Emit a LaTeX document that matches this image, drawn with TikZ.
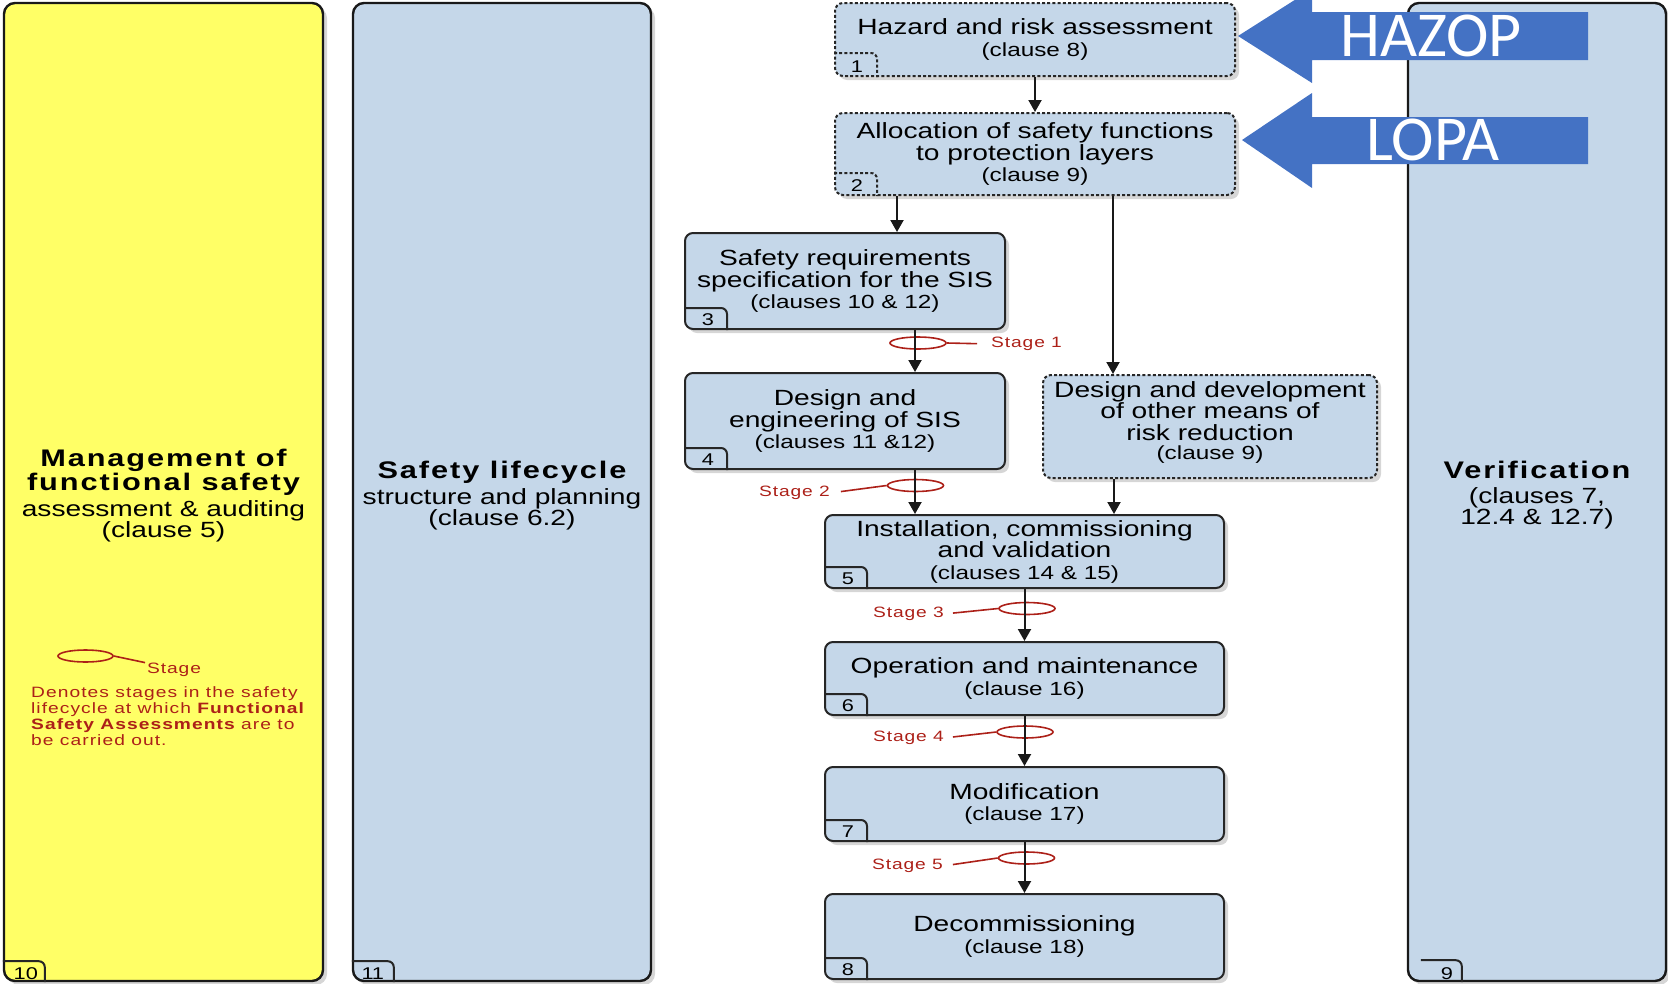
\documentclass[tikz,border=0pt]{standalone}
\usepackage{fontspec}
\setmainfont{Liberation Sans}[FakeStretch=1.28]
\newfontfamily\trackfont{Liberation Sans}[FakeStretch=1.28,LetterSpace=8]
\newfontfamily\stagefont{Liberation Sans}[FakeStretch=1.28,LetterSpace=6]
\newfontfamily\legfont{Liberation Sans}[FakeStretch=1.28,LetterSpace=7]
\newfontfamily\blockfont{Carlito}
\usetikzlibrary{shadows,arrows.meta,calc,shapes.geometric}
\definecolor{boxblue}{RGB}{197,215,233}
\definecolor{boxyellow}{RGB}{255,255,102}
\definecolor{stagered}{RGB}{172,32,24}
\definecolor{arrowblue}{RGB}{68,114,196}
\newcommand\mainf{\fontsize{22}{21.5}\selectfont}
\newcommand\clf{\fontsize{19}{21.5}\selectfont}
\newcommand\titlef{\fontsize{24}{24}\selectfont\trackfont\bfseries}
\newcommand\bigf{\fontsize{22}{24.5}\selectfont}
\newcommand\stagef{\fontsize{15}{17}\selectfont\stagefont}
\newcommand\legf{\fontsize{15}{16}\selectfont\legfont}
\newcommand\numf{\fontsize{17}{18}\selectfont}
\tikzset{
  every node/.style={inner sep=0pt},
  shad/.style={drop shadow={shadow xshift=4pt,shadow yshift=-4pt,opacity=0.16,fill=black}},
  box/.style={draw=black!85,line width=2pt,fill=boxblue,rounded corners=8pt,align=center,font=\mainf,shad},
  dotbox/.style={box,dash pattern=on 3pt off 2.2pt},
  bigbox/.style={draw=black!90,line width=2.4pt,rounded corners=11pt,shad},
  bigtext/.style={align=center,font=\bigf},
  boxtext/.style={align=center,font=\mainf},
  arr/.style={line width=2pt,draw=black!90,-{Triangle[length=12pt,width=13pt]}},
  stagering/.style={ellipse,draw=stagered,line width=1.6pt,minimum width=56pt,minimum height=12pt},
  stageline/.style={draw=stagered,line width=1.6pt},
  stagetxt/.style={text=stagered,font=\stagef},
  tabline/.style={line width=2pt,draw=black!85,rounded corners=6pt},
  dottab/.style={tabline,dash pattern=on 3pt off 2.2pt},
  tabnum/.style={font=\numf},
  bluearrow/.style={fill=arrowblue},
  blocktxt/.style={text=white,font=\blockfont\fontsize{64}{64}\selectfont}
}
\begin{document}
\begin{tikzpicture}[x=1pt,y=-1pt]
\useasboundingbox (0,0) rectangle (1668,983);
\clip (0,0) rectangle (1668,983);

% large columns
\node[bigbox,fill=boxyellow,minimum width=319pt,minimum height=978pt] (b10) at (163.5,492) {};
\node[bigtext] (b10t) at ($(b10.center)+(0,3.5)$)
  {{\titlef Management of}\\{\titlef functional safety}\\[1pt]assessment \& auditing\\[-3pt](clause 5)};
\node[bigbox,fill=boxblue,minimum width=298pt,minimum height=978pt] (b11) at (502,492) {};
\node[bigtext] (b11t) at ($(b11.center)+(0,4)$)
  {{\titlef Safety lifecycle}\\[1pt]structure and planning\\[-3pt](clause 6.2)};
\node[bigbox,fill=boxblue,minimum width=258pt,minimum height=978pt] (b9) at (1537,492) {};
\node[bigtext] (b9t) at ($(b9.center)+(0,3)$)
  {{\titlef Verification}\\[1pt](clauses 7,\\[-4pt]12.4 \& 12.7)};

% tabs of large columns
\draw[tabline] ($(b10.south west)+(0,-21)$) -- ++(42,0) -- ++(0,21);
\node[tabnum] (n10) at ($(b10.south west)+(23,-9)$) {10};
\draw[tabline] ($(b11.south west)+(0,-21)$) -- ++(42,0) -- ++(0,21);
\node[tabnum] (n11) at ($(b11.south west)+(21,-9)$) {11};
\draw[tabline] ($(b9.south west)+(14,-22)$) -- ++(41,0) -- ++(0,22);
\node[tabnum] (n9) at ($(b9.south west)+(40,-9)$) {9};

% lifecycle boxes
\node[dotbox,minimum width=400pt,minimum height=73pt] (b1) at (1035,39.5)
  {Hazard and risk assessment\\[1pt]{\clf (clause 8)}};
\node[dotbox,minimum width=400pt,minimum height=82pt] (b2) at (1035,154)
  {Allocation of safety functions\\to protection layers\\{\clf (clause 9)}};
\node[box,minimum width=320pt,minimum height=96pt] (b3) at (845,281)
  {Safety requirements\\specification for the SIS\\{\clf (clauses 10 \& 12)}};
\node[box,minimum width=320pt,minimum height=96pt] (b4) at (845,421)
  {Design and\\engineering of SIS\\{\clf (clauses 11 \&12)}};
\node[dotbox,minimum width=334pt,minimum height=103pt] (bo) at (1210,426.5) {};
\node[boxtext] (bot) at ($(bo.center)+(0,-4)$)
  {Design and development\\of other means of\\risk reduction\\[-2pt]{\clf (clause 9)}};
\node[box,minimum width=399pt,minimum height=73pt] (b5) at (1024.5,551.5)
  {Installation, commissioning\\and validation\\{\clf (clauses 14 \& 15)}};
\node[box,minimum width=399pt,minimum height=73pt] (b6) at (1024.5,678.5)
  {Operation and maintenance\\{\clf (clause 16)}};
\node[box,minimum width=399pt,minimum height=74pt] (b7) at (1024.5,804)
  {Modification\\{\clf (clause 17)}};
\node[box,minimum width=399pt,minimum height=85pt] (b8) at (1024.5,936.5)
  {Decommissioning\\{\clf (clause 18)}};

% tabs of lifecycle boxes
\draw[dottab] ($(b1.south west)+(0,-24)$) -- ++(43,0) -- ++(0,24);
\node[tabnum] (n1) at ($(b1.south west)+(23,-10)$) {1};
\draw[dottab] ($(b2.south west)+(0,-23)$) -- ++(43,0) -- ++(0,23);
\node[tabnum] (n2) at ($(b2.south west)+(23,-10)$) {2};
\foreach \b/\n in {b3/3,b4/4,b5/5,b6/6,b7/7,b8/8}{
  \draw[tabline] ($(\b.south west)+(0,-22)$) -- ++(43,0) -- ++(0,22);
  \node[tabnum] (n\n) at ($(\b.south west)+(24,-10)$) {\n};
}

% stage rings
\node[stagering] (s1) at (918,343) {};
\node[stagering] (s2) at (915.5,485.5) {};
\node[stagering] (s3) at (1027,608.5) {};
\node[stagering] (s4) at (1025,732) {};
\node[stagering] (s5) at (1026.5,858) {};

% connectors
\draw[arr] (b1.south) -- (b2.north);
\draw[arr] ([xshift=-138pt]b2.south) -- ([xshift=-138pt]b2.south |- b3.north);
\draw[arr] ([xshift=78pt]b2.south) -- ([xshift=78pt]b2.south |- bo.north);
\draw[arr] ([xshift=70pt]b3.south) -- ([xshift=70pt]b3.south |- b4.north);
\draw[arr] ([xshift=70pt]b4.south) -- ([xshift=70pt]b4.south |- b5.north);
\draw[arr] ([xshift=-96pt]bo.south) -- ([xshift=-96pt]bo.south |- b5.north);
\draw[arr] (b5.south) -- (b6.north);
\draw[arr] (b6.south) -- (b7.north);
\draw[arr] (b7.south) -- (b8.north);

% stage labels
\node[stagetxt,anchor=west] (t1) at (991,344) {Stage 1};
\node[stagetxt,anchor=east] (t2) at (830,493) {Stage 2};
\node[stagetxt,anchor=east] (t3) at (944,614) {Stage 3};
\node[stagetxt,anchor=east] (t4) at (944,738) {Stage 4};
\node[stagetxt,anchor=east] (t5) at (943,866) {Stage 5};
\draw[stageline,shorten >=14pt] (s1.east) -- (t1.west);
\draw[stageline,shorten >=11pt] (s2.west) -- (t2.east);
\draw[stageline,shorten >=9pt] (s3.west) -- (t3.east);
\draw[stageline,shorten >=9pt] (s4.west) -- (t4.east);
\draw[stageline,shorten >=10pt] (s5.west) -- (t5.east);

% legend
\node[stagering,minimum width=55pt] (ls) at (85.5,656) {};
\node[stagetxt,anchor=west] (lt) at (147,670) {Stage};
\draw[stageline,shorten >=2pt] (ls.east) -- (lt.north west);
\node[anchor=north west,align=left,text=stagered,font=\legf] (legtext) at (31,686)
  {Denotes stages in the safety\\lifecycle at which {\bfseries Functional}\\{\bfseries Safety Assessments} are to\\be carried out.};

% HAZOP / LOPA block arrows
\fill[bluearrow] (1238,36) -- (1312,-11) -- (1312,12) -- (1588,12) -- (1588,60) -- (1312,60) -- (1312,83) -- cycle;
\node[blocktxt] (hazop) at (1431,36) {HAZOP};
\fill[bluearrow] (1242,140) -- (1312,93) -- (1312,117) -- (1588,117) -- (1588,164) -- (1312,164) -- (1312,188) -- cycle;
\node[blocktxt] (lopa) at (1433,140) {LOPA};
\end{tikzpicture}
\end{document}
